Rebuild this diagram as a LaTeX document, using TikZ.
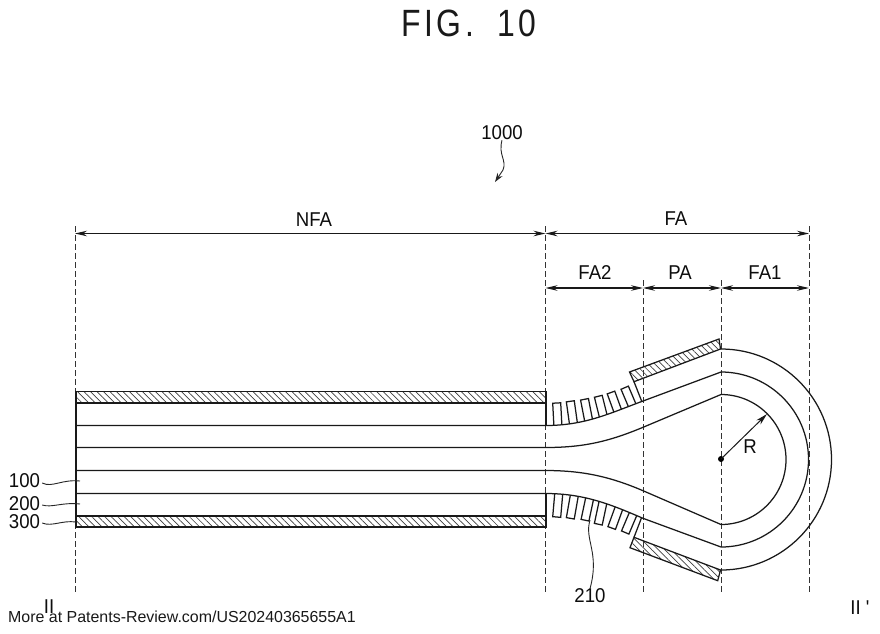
\documentclass[tikz,border=0pt]{standalone}
\usepackage{fontspec}
\setmainfont{Liberation Sans}
\newfontfamily\labelfont[FakeStretch=0.93]{Liberation Sans}
\newfontfamily\titlefont[FakeStretch=0.84,LetterSpace=9,WordSpace=1.9]{Liberation Sans}
\usetikzlibrary{arrows.meta,patterns.meta}
\tikzset{
    layerline/.style={black!90, line width=1.25pt},
    dashline/.style={black!80, line width=1pt, dash pattern=on 6pt off 3pt},
    dimline/.style={black!90, line width=1.05pt, {Stealth[length=12pt,width=5.5pt]}-{Stealth[length=12pt,width=5.5pt]}},
    leaderline/.style={black!85, line width=0.9pt},
    hatched/.style={layerline, pattern={Lines[angle=-45,distance=4.6pt,line width=0.7pt]}, pattern color=black!75},
    partlabel/.style={font=\labelfont\fontsize{20}{20}\selectfont, text=black!95, inner sep=0pt},
}

\begin{document}
\begin{tikzpicture}[x=1pt,y=-1pt]
    \useasboundingbox (0,0) rectangle (880,633);
    \fill[white] (0,0) rectangle (880,633);

    \node[font=\titlefont\fontsize{38}{38}\selectfont, text=black!90, inner sep=0pt] (title) at (469,23) {FIG. 10};

    % dashed boundaries
    \foreach \x/\y in {75/226,545.5/226,643/280,721/280,809/226} {
            \draw[dashline] (\x,\y) -- (\x,593);
        }

    % dimensions
    \coordinate (nfaL) at (75,233.5);
    \coordinate (nfaR) at (545.5,233.5);
    \coordinate (faR) at (809,233.5);
    \coordinate (faTwoL) at (545.5,288);
    \coordinate (paL) at (643,288);
    \coordinate (faOneL) at (721,288);
    \coordinate (faOneR) at (809,288);
    \draw[dimline] (nfaL) -- (nfaR);
    \draw[dimline] (nfaR) -- (faR);
    \draw[dimline] (faTwoL) -- (paL);
    \draw[dimline] (paL) -- (faOneL);
    \draw[dimline] (faOneL) -- (faOneR);

    \node[partlabel] (nfaText) at (314,220) {NFA};
    \node[partlabel] (faText) at (676,219) {FA};
    \node[partlabel] (faTwoText) at (595,273) {FA2};
    \node[partlabel] (paText) at (680,273) {PA};
    \node[partlabel] (faOneText) at (765,273) {FA1};

    % flat part
    \draw[hatched] (76,391.5) rectangle (546,403);
    \draw[hatched] (76,516) rectangle (546,527);
    \draw[layerline] (76,391.5) -- (76,527);
    \draw[layerline] (546,403) -- (546,425.5);
    \draw[layerline] (546,493.5) -- (546,516);

    % bent layers
    \draw[layerline] (76,425.5) -- (545.5,425.5) .. controls (585,425.5) and (610,413.2) .. (643,401) -- (721,372) arc[start angle=90,end angle=-90,radius=87.5pt] -- (643,518.3) .. controls (612,505) and (585,493.5) .. (545.5,493.5) -- (76,493.5);
    \draw[layerline] (76,447.5) -- (545.5,447.5) .. controls (585,447.5) and (610,441) .. (643,427.3) -- (721,394.5) arc[start angle=90,end angle=-90,radius=65pt] -- (643,490.7) .. controls (612,477.5) and (585,470.5) .. (545.5,470.5) -- (76,470.5);
    \draw[layerline] (721,349) arc[start angle=90,end angle=-90,radius=110.5pt];

    % plates
    \draw[hatched] (629.5,372) -- (719,339) -- (720.5,349) -- (634,381.7) -- cycle;
    \draw[hatched] (630,547.7) -- (634,537.3) -- (720.5,570) -- (717.7,580.7) -- cycle;
    \draw[layerline] (634,381.7) -- (642,402);
    \draw[layerline] (634,537.3) -- (641.7,517.3);

    % ribs
    \begin{scope}
        \clip (545.5,425.5) .. controls (585,425.5) and (610,413.2) .. (643,401) -- (643,370) -- (545.5,370) -- cycle;
        \foreach \x/\y/\a in {556.7/403/3,570.3/401.3/8,584.5/399.3/11,598.3/396.3/14,611/392.5/20,624.7/387.7/23} {
                \draw[layerline,shift={(\x,\y)},rotate=\a] (-4,40) -- (-4,0) -- (4,0) -- (4,40);
            }
    \end{scope}
    \begin{scope}
        \clip (545.5,493.5) .. controls (585,493.5) and (612,505) .. (643,518.3) -- (643,550) -- (545.5,550) -- cycle;
        \foreach \x/\y/\a in {556.7/517/5,570.3/518.3/10,585/520.2/12,598.3/524.2/12,611.7/528/20,625.2/532.5/23} {
                \draw[layerline,shift={(\x,\y)},rotate=-\a] (-4,-40) -- (-4,0) -- (4,0) -- (4,-40);
            }
    \end{scope}

    % radius
    \fill[black] (721,459) circle (3pt);
    \coordinate (center) at (721,459);
    \coordinate (rim) at (767,414);
    \draw[black!90, line width=1pt, -{Stealth[length=12pt,width=6pt]}] (center) -- (rim);
    \node[partlabel] (radiusText) at (750,447) {R};

    % reference numerals
    \node[partlabel] (sheet) at (502,133) {1000};
    \coordinate (sheetTip) at (495,182);
    \draw[leaderline, -{Stealth[length=9pt,width=6pt]}] (sheet.south) .. controls (498,155) and (507,160) .. (503,170) -- (sheetTip);

    \node[partlabel] (panel) at (24.5,481) {100};
    \node[partlabel] (bond) at (24.5,504) {200};
    \node[partlabel] (cover) at (24.5,522) {300};
    \coordinate (panelEnd) at (80,481);
    \coordinate (bondEnd) at (80,504);
    \coordinate (coverEnd) at (76,522);
    \draw[leaderline] (panel.east) ++(2,2) .. controls (52,488) and (62,479) .. (panelEnd);
    \draw[leaderline] (bond.east) ++(2,1) .. controls (52,508) and (62,502) .. (bondEnd);
    \draw[leaderline] (cover.east) ++(2,1) .. controls (52,527) and (62,520) .. (coverEnd);

    \node[partlabel] (rib) at (590,596) {210};
    \coordinate (ribEnd) at (590,520);
    \draw[leaderline] (ribEnd) .. controls (584,540) and (600,552) .. (rib.north);

    % section marks
    \node[partlabel] (markL) at (49,607) {II};
    \node[partlabel] (markR) at (860,608) {II '};

    \node[anchor=base west, inner sep=0pt, text=black!90, font=\fontsize{15.95}{16}\selectfont] (source) at (8,622) {More at Patents-Review.com/US20240365655A1};
\end{tikzpicture}
\end{document}
